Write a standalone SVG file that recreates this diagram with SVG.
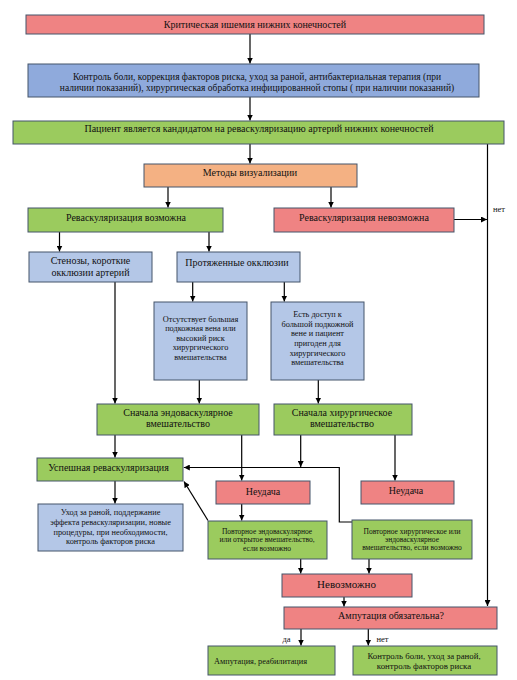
<svg xmlns="http://www.w3.org/2000/svg" width="517" height="680" viewBox="0 0 517 680">
<style>
rect{stroke:#44546A;stroke-width:1}
.r{fill:#EF8383}
.b{fill:#8FAADC}
.lb{fill:#B4C7E7}
.g{fill:#9BCB5E}
.o{fill:#F4B183}
text{font-family:"Liberation Serif","Times New Roman",serif;fill:#111;text-anchor:middle}
.t10{font-size:10px}
.t11{font-size:11px}
.t9{font-size:9.5px}
.s75{font-size:7.5px}
.s83{font-size:8.3px}
.s85{font-size:8.8px}
.lbl{font-size:8.5px;text-anchor:start}
#connectors line,#connectors polyline{stroke:#000;stroke-width:1.2;fill:none}
</style>
<defs>
<marker id="a" viewBox="0 0 6 6" refX="6" refY="3" markerWidth="6" markerHeight="6" markerUnits="userSpaceOnUse" orient="auto"><path d="M0,0 L6,3 L0,6 z" fill="#000"/></marker>
</defs>
<rect x="0" y="0" width="517" height="680" fill="#fff" style="stroke:none"/>

<g id="connectors">
<line x1="250" y1="34" x2="250" y2="63.5" marker-end="url(#a)"/>
<line x1="250" y1="97" x2="250" y2="120.5" marker-end="url(#a)"/>
<line x1="250" y1="144" x2="250" y2="163.5" marker-end="url(#a)"/>
<line x1="168" y1="187" x2="168" y2="207.5" marker-end="url(#a)"/>
<line x1="331" y1="187" x2="331" y2="207.5" marker-end="url(#a)"/>
<line x1="454" y1="219.5" x2="487" y2="219.5" marker-end="url(#a)"/>
<line x1="487.5" y1="141" x2="487.5" y2="606" marker-end="url(#a)"/>
<line x1="59.5" y1="232" x2="59.5" y2="251.5" marker-end="url(#a)"/>
<line x1="209" y1="232" x2="209" y2="251.5" marker-end="url(#a)"/>
<line x1="192.7" y1="282" x2="192.7" y2="301.5" marker-end="url(#a)"/>
<line x1="284.3" y1="282" x2="284.3" y2="301.5" marker-end="url(#a)"/>
<line x1="115" y1="282" x2="115" y2="403.5" marker-end="url(#a)"/>
<line x1="199.3" y1="380" x2="199.3" y2="403.5" marker-end="url(#a)"/>
<line x1="318.3" y1="380" x2="318.3" y2="403.5" marker-end="url(#a)"/>
<line x1="115" y1="435" x2="115" y2="457.5" marker-end="url(#a)"/>
<line x1="241.7" y1="435" x2="241.7" y2="480.5" marker-end="url(#a)"/>
<line x1="300.7" y1="435" x2="300.7" y2="467" marker-end="url(#a)"/>
<polyline points="352,522 339.3,522 339.3,467.5 183.8,467.5" marker-end="url(#a)"/>
<line x1="395" y1="435" x2="395" y2="480.5" marker-end="url(#a)"/>
<line x1="241.7" y1="504" x2="241.7" y2="520.5" marker-end="url(#a)"/>
<line x1="208" y1="520.5" x2="184" y2="481.5" marker-end="url(#a)"/>
<line x1="115" y1="481" x2="115" y2="503.5" marker-end="url(#a)"/>
<line x1="300.7" y1="559" x2="300.7" y2="573.5" marker-end="url(#a)"/>
<line x1="369" y1="559" x2="369" y2="573.5" marker-end="url(#a)"/>
<line x1="344" y1="597" x2="344" y2="606.5" marker-end="url(#a)"/>
<line x1="301" y1="629" x2="301" y2="645.5" marker-end="url(#a)"/>
<line x1="368.3" y1="629" x2="368.3" y2="645.5" marker-end="url(#a)"/>
<text class="lbl" x="493" y="212">нет</text>
<text class="lbl" x="282.5" y="642">да</text>
<text class="lbl" x="376.5" y="642">нет</text>
</g>

<g id="n1"><rect class="r" x="26" y="15" width="458" height="19"/><text class="t10" x="255" y="27.5">Критическая ишемия нижних конечностей</text></g>
<g id="n2"><rect class="b" x="28" y="64" width="451" height="33"/><text class="t9" x="257" y="80">Контроль боли, коррекция факторов риска, уход за раной, антибактериальная терапия (при</text><text class="t9" x="257" y="90.5">наличии показаний), хирургическая обработка инфицированной стопы ( при наличии показаний)</text></g>
<g id="n3"><rect class="g" x="13" y="121" width="491" height="23"/><text class="t10" x="259" y="132">Пациент является кандидатом на реваскуляризацию артерий нижних конечностей</text></g>
<g id="n4"><rect class="o" x="144" y="164" width="213" height="23"/><text class="t10" x="250" y="176">Методы визуализации</text></g>
<g id="n5"><rect class="g" x="28" y="208" width="195" height="24"/><text class="t10" x="126" y="221">Реваскуляризация возможна</text></g>
<g id="n6"><rect class="r" x="274" y="208" width="180" height="24"/><text class="t10" x="364" y="221">Реваскуляризация невозможна</text></g>
<g id="n7"><rect class="lb" x="29" y="252" width="123" height="30"/><text class="t10" x="90.5" y="263.7">Стенозы, короткие</text><text class="t10" x="90.5" y="276">окклюзии артерий</text></g>
<g id="n8"><rect class="lb" x="177" y="252" width="123" height="30"/><text class="t10" x="237" y="266">Протяженные окклюзии</text></g>
<g id="n9"><rect class="lb" x="154" y="302" width="93" height="78"/><text class="s83" x="200.5" y="321.8">Отсутствует большая</text><text class="s83" x="200.5" y="331.1">подкожная вена или</text><text class="s83" x="200.5" y="340.5">высокий риск</text><text class="s83" x="200.5" y="350.1">хирургического</text><text class="s83" x="200.5" y="359.5">вмешательства</text></g>
<g id="n10"><rect class="lb" x="271" y="302" width="93" height="78"/><text class="s83" x="317.5" y="317.1">Есть доступ к</text><text class="s83" x="317.5" y="326.5">большой подкожной</text><text class="s83" x="317.5" y="336.1">вене и пациент</text><text class="s83" x="317.5" y="346.1">пригоден для</text><text class="s83" x="317.5" y="355.5">хирургического</text><text class="s83" x="317.5" y="365.1">вмешательства</text></g>
<g id="n11"><rect class="g" x="97" y="404" width="162" height="31"/><text class="t10" x="178" y="415.8">Сначала эндоваскулярное</text><text class="t10" x="178" y="426.8">вмешательство</text></g>
<g id="n12"><rect class="g" x="274" y="404" width="138" height="31"/><text class="t10" x="342" y="415.8">Сначала хирургическое</text><text class="t10" x="342" y="426.8">вмешательство</text></g>
<g id="n13"><rect class="g" x="37" y="458" width="146" height="23"/><text class="t10" x="108.5" y="471">Успешная реваскуляризация</text></g>
<g id="n14"><rect class="r" x="216" y="481" width="94" height="23"/><text class="t10" x="263" y="494.5">Неудача</text></g>
<g id="n15"><rect class="r" x="361" y="481" width="93" height="23"/><text class="t10" x="406" y="494">Неудача</text></g>
<g id="n16"><rect class="lb" x="38" y="504" width="145" height="47"/><text class="s83" x="110.5" y="514.5">Уход за раной, поддержание</text><text class="s83" x="110.5" y="524.5">эффекта реваскуляризации, новые</text><text class="s83" x="110.5" y="534.5">процедуры, при необходимости,</text><text class="s83" x="110.5" y="544">контроль факторов риска</text></g>
<g id="n17"><rect class="g" x="208" y="521" width="119" height="38"/><text class="s75" x="267" y="534">Повторное эндоваскулярное</text><text class="s75" x="267" y="542">или открытое вмешательство,</text><text class="s75" x="267" y="550.5">если возможно</text></g>
<g id="n18"><rect class="g" x="352" y="520" width="120" height="39"/><text class="s75" x="412" y="533.6">Повторное  хирургическое или</text><text class="s75" x="412" y="542">эндоваскулярное</text><text class="s75" x="412" y="550.3">вмешательство, если возможно</text></g>
<g id="n19"><rect class="r" x="282" y="574" width="130" height="23"/><text class="t11" x="346.5" y="588">Невозможно</text></g>
<g id="n20"><rect class="r" x="284" y="607" width="213" height="22"/><text class="t10" x="391" y="618.5">Ампутация обязательна?</text></g>
<g id="n21"><rect class="g" x="208" y="646" width="127" height="29"/><text class="s83" x="214" y="664" style="text-anchor:start">Ампутация, реабилитация</text></g>
<g id="n22"><rect class="g" x="353" y="646" width="144" height="29"/><text class="s85" x="424" y="659">Контроль боли, уход за раной,</text><text class="s85" x="424" y="669">контроль факторов риска</text></g>
</svg>
